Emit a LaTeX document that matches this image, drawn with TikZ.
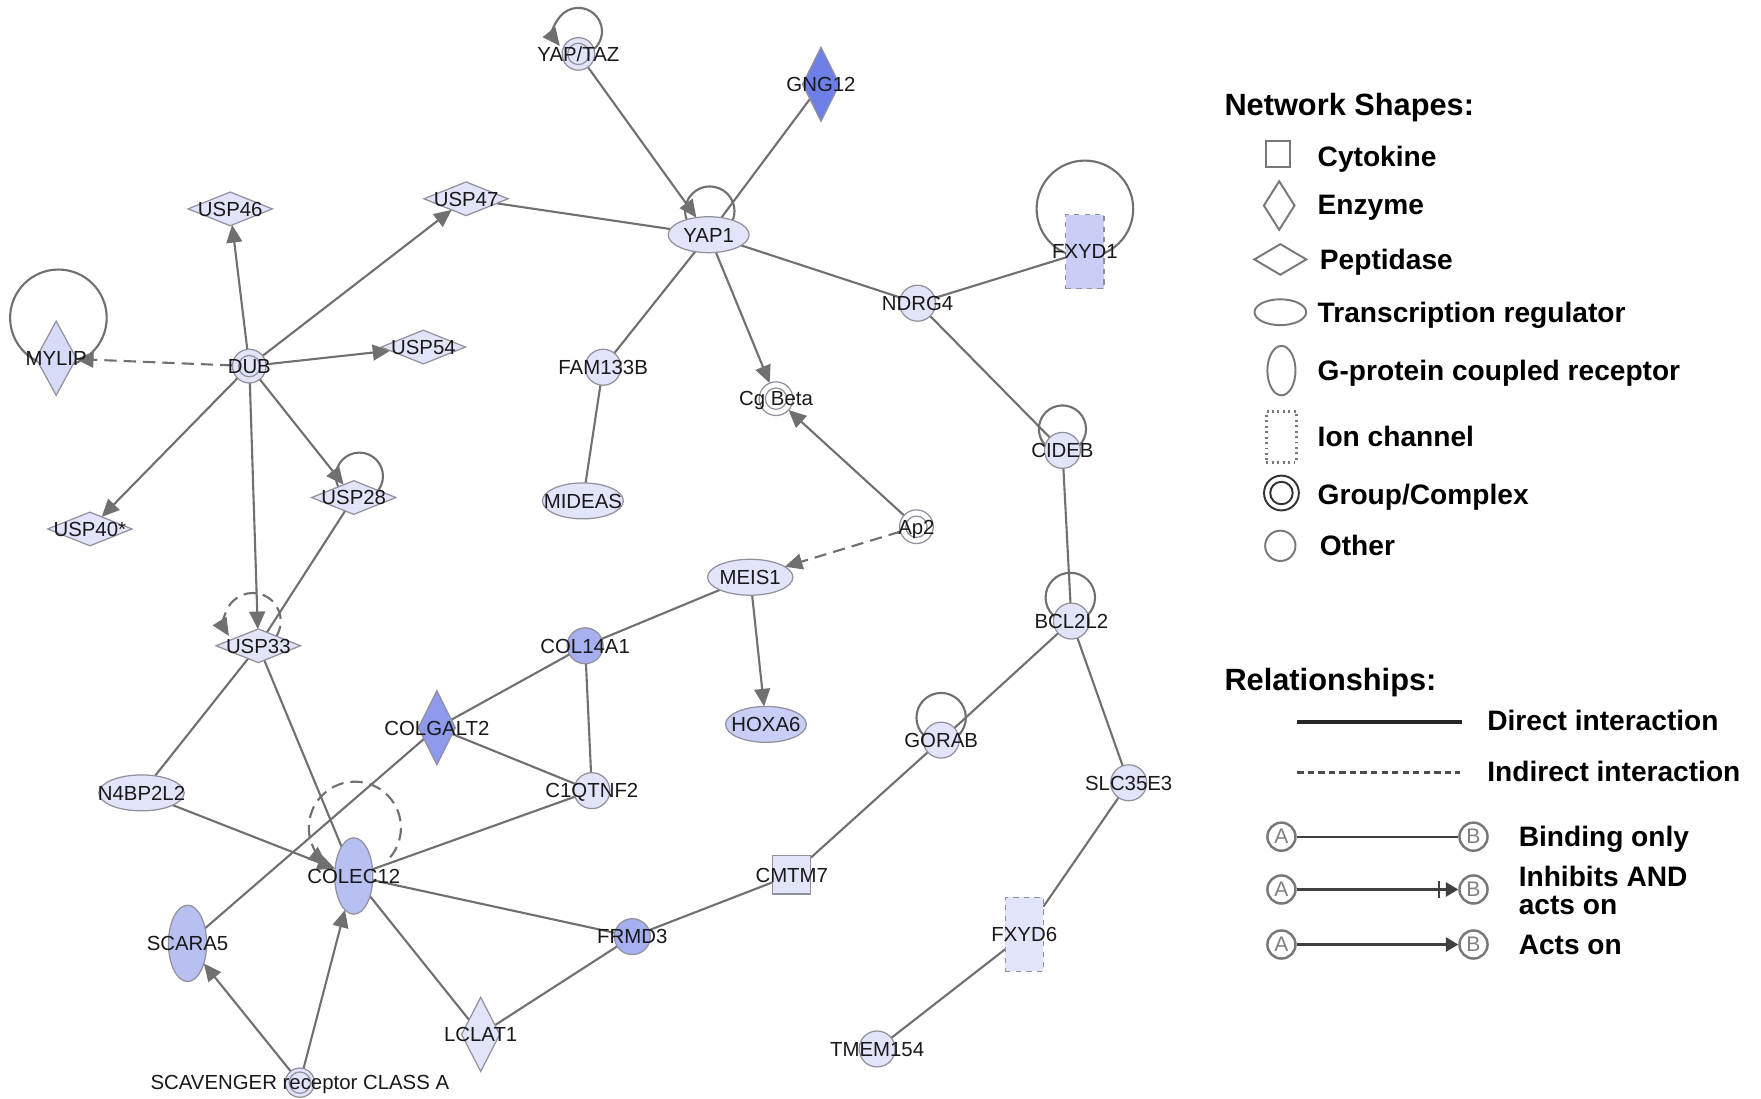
\documentclass[tikz,border=0pt]{standalone}
\usepackage{fontspec}
\setmainfont{Liberation Sans}
\usetikzlibrary{shapes.geometric,arrows.meta,calc,backgrounds}
\newcommand\pxu{0.6391pt}
\definecolor{nfill}{RGB}{226,229,250}
\definecolor{nlite}{RGB}{214,219,248}
\definecolor{nmid}{RGB}{200,206,246}
\definecolor{nmed}{RGB}{184,192,242}
\definecolor{ndark}{RGB}{166,175,239}
\definecolor{nenz}{RGB}{142,155,236}
\definecolor{ndeep}{RGB}{110,128,232}
\definecolor{nline}{RGB}{145,145,158}
\definecolor{eline}{RGB}{112,112,112}
\definecolor{lgray}{RGB}{120,120,120}
\begin{document}
\begin{tikzpicture}[x=0.022462cm, y=-0.022462cm,
  lab/.style={font=\fontsize{11.6}{12}\selectfont, text=black!90, inner sep=0pt, text height=8.3pt, text depth=0pt},
  base/.style={draw=nline, line width=0.7pt, fill=nfill, inner sep=0pt, outer sep=0pt},
  other/.style={base, circle, minimum size=32*\pxu, label={[lab]center:#1}},
  cplx/.style={base, circle, minimum size=29*\pxu, label={[lab]center:#1},
    path picture={\draw[nline, line width=0.7pt] (path picture bounding box.center) circle[radius=9.5*\pxu];}},
  pept/.style={base, diamond, minimum width=75*\pxu, minimum height=30*\pxu, label={[lab]center:#1}},
  enz/.style={base, diamond, minimum width=33*\pxu, minimum height=66*\pxu, label={[lab]center:#1}},
  treg/.style={base, ellipse, minimum width=72*\pxu, minimum height=32*\pxu, label={[lab]center:#1}},
  gpcr/.style={base, ellipse, minimum width=34*\pxu, minimum height=68*\pxu, label={[lab]center:#1}},
  ionch/.style={base, rectangle, dashed, minimum width=34*\pxu, minimum height=66*\pxu, label={[lab]center:#1}},
  cyto/.style={base, rectangle, minimum width=34*\pxu, minimum height=34*\pxu, label={[lab]center:#1}},
  edge/.style={draw=eline, line width=1.2pt},
  act/.style={edge, -{Triangle[length=10pt, width=9pt]}},
  indirect/.style={edge, dash pattern=on 7pt off 4pt},
  actind/.style={indirect, -{Triangle[length=10pt, width=9pt]}},
  lgshape/.style={draw=lgray, line width=1.1pt, fill=white, inner sep=0pt},
  lgtext/.style={anchor=west, inner sep=0pt, font=\fontsize{16}{17}\selectfont\bfseries, text height=11.5pt, text depth=0pt},
  lghead/.style={anchor=west, inner sep=0pt, font=\fontsize{17.5}{18}\selectfont\bfseries, text height=12.6pt, text depth=0pt},
  abnode/.style={circle, draw=lgray, line width=1.4pt, fill=white, minimum size=25*\pxu, inner sep=0pt,
    text=gray, font=\fontsize{12}{12}\selectfont},
  lgline/.style={draw=black!75, line width=1.3pt}
]
\useasboundingbox (0,0) rectangle (1568,978);

% ---------- molecules ----------
\node[cplx=YAP/TAZ] (yaptaz) at (515,48) {};
\node[enz=GNG12, fill=ndeep] (gng12) at (731,75) {};
\node[pept=USP46] (usp46) at (205,186) {};
\node[pept=USP47] (usp47) at (415,177) {};
\node[treg=YAP1] (yap1) at (631,209) {};
\node[ionch=FXYD1, fill=nmid] (fxyd1) at (966,224) {};
\node[other=NDRG4] (ndrg4) at (817,270) {};
\node[enz=MYLIP, fill=nlite, minimum width=36*\pxu] (mylip) at (50,319) {};
\node[cplx=DUB, minimum size=30*\pxu] (dub) at (222,326) {};
\node[pept=USP54] (usp54) at (377,309) {};
\node[other=FAM133B] (fam133b) at (537,327) {};
\node[cplx={Cg Beta}, fill=white, minimum size=30*\pxu] (cgbeta) at (691,355) {};
\node[other=CIDEB] (cideb) at (946,401) {};
\node[pept=USP28] (usp28) at (315,443) {};
\node[pept=USP40*] (usp40) at (80,471) {};
\node[treg=MIDEAS] (mideas) at (519,446) {};
\node[cplx=Ap2, fill=white, minimum size=30*\pxu] (ap2) at (816,469) {};
\node[treg=MEIS1, minimum width=76*\pxu] (meis1) at (668,514) {};
\node[pept=USP33] (usp33) at (230,575) {};
\node[other=COL14A1, fill=ndark] (col14a1) at (521,575) {};
\node[other=BCL2L2] (bcl2l2) at (954,553) {};
\node[enz=COLGALT2, fill=nenz] (colgalt2) at (389,648) {};
\node[treg=HOXA6, fill=nmid] (hoxa6) at (682,645) {};
\node[other=GORAB] (gorab) at (838,659) {};
\node[treg=N4BP2L2, minimum width=76*\pxu] (n4bp2l2) at (126,706) {};
\node[other=C1QTNF2] (c1qtnf2) at (527,704) {};
\node[other=SLC35E3] (slc35e3) at (1005,697) {};
\node[gpcr=COLEC12, fill=nmed] (colec12) at (315,780) {};
\node[cyto=CMTM7] (cmtm7) at (705,779) {};
\node[gpcr=SCARA5, fill=nmed] (scara5) at (167,840) {};
\node[other=FRMD3, fill=ndark] (frmd3) at (563,834) {};
\node[ionch=FXYD6] (fxyd6) at (912,832) {};
\node[enz=LCLAT1, minimum width=34*\pxu] (lclat1) at (428,921) {};
\node[other=TMEM154] (tmem154) at (781,934) {};
\node[cplx={SCAVENGER receptor CLASS A}, minimum size=26*\pxu] (scav) at (267,964) {};

% ---------- connectors and self loops, kept under the shapes ----------
\begin{pgfonlayer}{background}
  \fill[white] (0,0) rectangle (1568,978);
  % self loops
  \draw[act] ($(yaptaz)+(0,-20)+(52:21)$) arc[start angle=52, end angle=-218, radius=21];
  \draw[edge] ($(yap1)+(1,-21)$) circle[radius=22];
  \draw[edge] ($(fxyd1)+(0,-38)$) circle[radius=43];
  \draw[edge] ($(mylip)+(2,-36)$) circle[radius=43];
  \draw[edge] ($(cideb)+(0,-19)$) circle[radius=21];
  \draw[edge] ($(usp28)+(5,-19)$) circle[radius=21];
  \draw[edge] ($(bcl2l2)+(-1,-21)$) circle[radius=22];
  \draw[edge] ($(gorab)+(0,-20)$) circle[radius=22];
  \draw[actind] ($(usp33)+(-5,-22)+(35:25)$) arc[start angle=35, end angle=-212, radius=25];
  \draw[actind] ($(colec12)+(1,-43)+(40:41)$) arc[start angle=40, end angle=-232, radius=41];
  % interactions
  \draw[act] (yaptaz) -- (yap1);
  \draw[edge] (gng12) -- (yap1);
  \draw[edge] (usp47) -- (yap1);
  \draw[edge] (yap1) -- (ndrg4);
  \draw[edge] (yap1) -- (fam133b);
  \draw[act] (yap1) -- (cgbeta);
  \draw[edge] (ndrg4) -- (fxyd1);
  \draw[edge] (ndrg4) -- (cideb);
  \draw[edge] (cideb) -- (bcl2l2);
  \draw[edge] (bcl2l2) -- (gorab);
  \draw[edge] (bcl2l2) -- (slc35e3);
  \draw[edge] (gorab) -- (cmtm7);
  \draw[edge] (cmtm7) -- (frmd3);
  \draw[edge] (slc35e3) -- (fxyd6);
  \draw[edge] (fxyd6) -- (tmem154);
  \draw[act] (ap2) -- (cgbeta);
  \draw[actind] (ap2) -- (meis1);
  \draw[act] (meis1) -- (hoxa6);
  \draw[edge] (meis1) -- (col14a1);
  \draw[edge] (col14a1) -- (colgalt2);
  \draw[edge] (col14a1) -- (c1qtnf2);
  \draw[edge] (colgalt2) -- (c1qtnf2);
  \draw[edge] (colgalt2) -- (scara5);
  \draw[edge] (c1qtnf2) -- (colec12);
  \draw[edge] (fam133b) -- (mideas);
  \draw[act] (dub) -- (usp46);
  \draw[act] (dub) -- (usp47);
  \draw[act] (dub) -- (usp54);
  \draw[actind] (dub) -- (mylip);
  \draw[act] (dub) -- (usp40);
  \draw[act] (dub) -- (usp28);
  \draw[act] (dub) -- (usp33);
  \draw[edge] (usp28) -- (usp33);
  \draw[edge] (usp33) -- (n4bp2l2);
  \draw[edge] (usp33) -- (colec12);
  \draw[act] (n4bp2l2) -- (colec12);
  \draw[edge] (colec12) -- (frmd3);
  \draw[edge] (colec12) -- (lclat1);
  \draw[edge] (lclat1) -- (frmd3);
  \draw[act] (scav) -- (scara5);
  \draw[act] (scav) -- (colec12);
\end{pgfonlayer}

% ---------- legend: shapes ----------
\node[lghead] (hshapes) at (1090,93) {Network Shapes:};
\node[lgshape, rectangle, minimum width=22*\pxu, minimum height=23*\pxu] (ks1) at (1138,137) {};
\node[lgtext] (kt1) at (1173,139) {Cytokine};
\node[lgshape, diamond, minimum width=28*\pxu, minimum height=44*\pxu] (ks2) at (1139,183) {};
\node[lgtext] (kt2) at (1173,182) {Enzyme};
\node[lgshape, diamond, minimum width=47*\pxu, minimum height=28*\pxu] (ks3) at (1140,231) {};
\node[lgtext] (kt3) at (1175,231) {Peptidase};
\node[lgshape, ellipse, minimum width=46*\pxu, minimum height=23*\pxu] (ks4) at (1140,278) {};
\node[lgtext] (kt4) at (1173,278) {Transcription regulator};
\node[lgshape, ellipse, minimum width=25*\pxu, minimum height=44*\pxu] (ks5) at (1141,330) {};
\node[lgtext] (kt5) at (1173,330) {G-protein coupled receptor};
\node[lgshape, rectangle, dotted, line width=1.6pt, minimum width=27*\pxu, minimum height=45*\pxu] (ks6) at (1141,389) {};
\node[lgtext] (kt6) at (1173,389) {Ion channel};
\node[lgshape, circle, draw=black!80, minimum size=31*\pxu,
  path picture={\draw[black!80, line width=1.1pt] (path picture bounding box.center) circle[radius=10*\pxu];}] (ks7) at (1141,439) {};
\node[lgtext] (kt7) at (1173,440) {Group/Complex};
\node[lgshape, circle, minimum size=27*\pxu] (ks8) at (1140,486) {};
\node[lgtext] (kt8) at (1175,486) {Other};

% ---------- legend: relationships ----------
\node[lghead] (hrel) at (1090,605) {Relationships:};
\coordinate (ld1) at (1155,643);
\coordinate (ld2) at (1302,643);
\draw[draw=black!85, line width=2.4pt] (ld1) -- (ld2);
\node[lgtext] (kr1) at (1324,641) {Direct interaction};
\coordinate (li1) at (1155,688);
\coordinate (li2) at (1300,688);
\draw[draw=black!70, line width=1.8pt, dash pattern=on 3.6pt off 2.4pt] (li1) -- (li2);
\node[lgtext] (kr2) at (1324,687) {Indirect interaction};

\node[abnode] (ba) at (1141,745) {A};
\node[abnode] (bb) at (1312,745) {B};
\draw[lgline] (ba) -- (bb);
\node[lgtext] (kr3) at (1352,745) {Binding only};

\node[abnode] (ia) at (1141,792) {A};
\node[abnode] (ib) at (1312,792) {B};
\draw[lgline, -{Triangle[length=7pt, width=8pt]}] (ia) -- (ib);
\draw[lgline] ($(ib)+(-31,-8)$) -- ($(ib)+(-31,8)$);
\node[lgtext] (kr4) at (1352,780) {Inhibits AND};
\node[lgtext] (kr5) at (1352,805) {acts on};

\node[abnode] (aa) at (1141,841) {A};
\node[abnode] (ab) at (1312,841) {B};
\draw[lgline, -{Triangle[length=7pt, width=8pt]}] (aa) -- (ab);
\node[lgtext] (kr6) at (1352,841) {Acts on};
\end{tikzpicture}
\end{document}
